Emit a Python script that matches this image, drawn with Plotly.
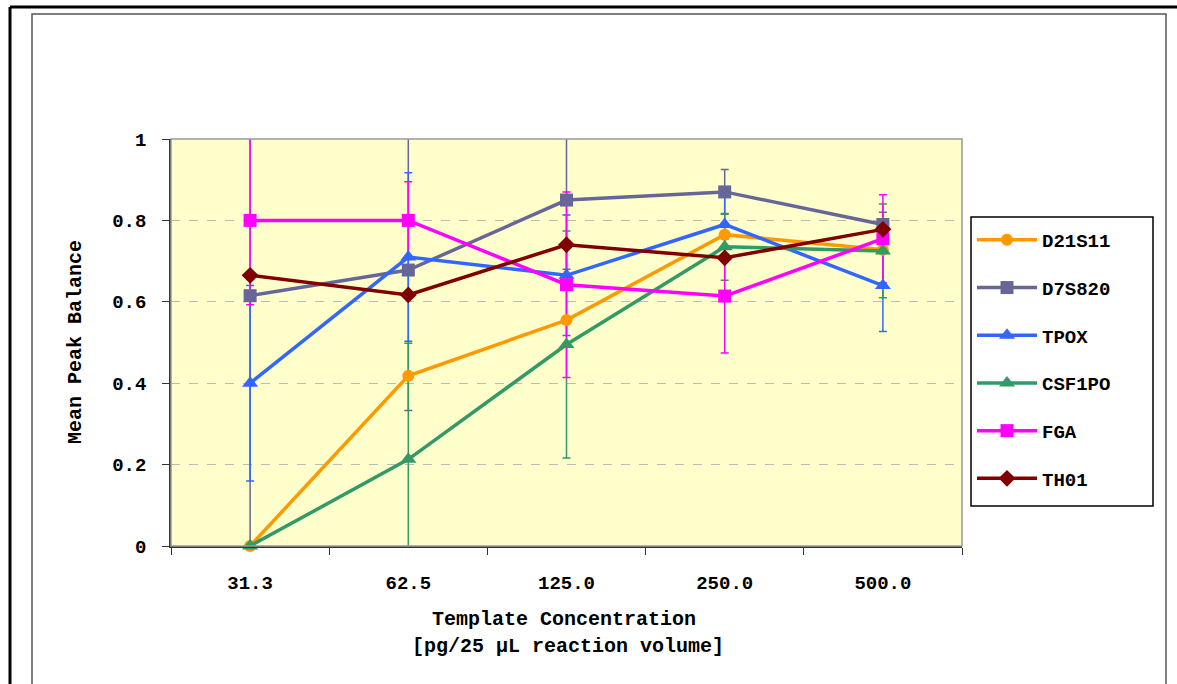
import plotly.graph_objects as go

categories = ["31.3", "62.5", "125.0", "250.0", "500.0"]

series_names = ["D21S11", "D7S820", "TPOX", "CSF1PO", "FGA", "TH01"]

d21s11 = [0.0, 0.418, 0.555, 0.765, 0.728]
d7s820 = [0.615, 0.678, 0.850, 0.870, 0.790]
tpox = [0.400, 0.710, 0.665, 0.790, 0.640]
csf1po = [0.0, 0.213, 0.495, 0.735, 0.725]
fga = [0.800, 0.800, 0.642, 0.614, 0.755]
th01 = [0.665, 0.617, 0.740, 0.708, 0.778]

# error bar half-lengths (None = no error bars drawn)
d21s11_err = None
d7s820_err = [0.62, 0.345, 0.17, 0.055, 0.03]
tpox_err = [0.24, 0.207, 0.148, 0.09, 0.113]
csf1po_err = [0.0, 0.285, 0.279, 0.082, 0.115]
fga_err = [0.207, 0.095, 0.228, 0.14, 0.108]
th01_err = None

values = [d21s11, d7s820, tpox, csf1po, fga, th01]
errors = [d21s11_err, d7s820_err, tpox_err, csf1po_err, fga_err, th01_err]
colors = ["#FF9900", "#666699", "#3366FF", "#339966", "#FF00FF", "#800000"]
symbols = ["circle", "square", "triangle-up", "triangle-up", "square", "diamond"]
msizes = [12, 13, 14, 14, 13, 13]

FONT = "Liberation Mono, Courier New, monospace"

fig = go.Figure()

# error bars first (clipped to plot area)
for name, v, e, c in zip(series_names, values, errors, colors):
    if e is None:
        continue
    fig.add_trace(go.Scatter(
        x=categories, y=v, mode="markers",
        marker=dict(size=1, color="rgba(0,0,0,0)"),
        error_y=dict(type="data", array=e, visible=True, color=c,
                     thickness=1.5, width=4),
        showlegend=False, hoverinfo="skip",
    ))

for i, (name, v, c, s, ms) in enumerate(zip(series_names, values, colors, symbols, msizes)):
    fig.add_trace(go.Scatter(
        x=categories, y=v, name=name, mode="lines+markers",
        line=dict(color=c, width=3.5),
        marker=dict(symbol=s, size=ms, color=c),
        cliponaxis=False, legendgroup=name,
    ))

# plot geometry (pixels)
W, H = 1177, 684
L, R, T, B = 171, 962, 139, 546
pw, ph = R - L, B - T

def px(x):
    return (x - L) / pw

def py(y):
    return (B - y) / ph

shapes = [
    # plot area border
    dict(type="rect", xref="paper", yref="paper", x0=0, x1=1, y0=0, y1=1,
         line=dict(color="#999999", width=1.5), layer="above"),
    # outer frame (black)
    dict(type="line", xref="paper", yref="paper", x0=px(10), x1=px(1180),
         y0=py(7), y1=py(7), line=dict(color="black", width=3)),
    dict(type="line", xref="paper", yref="paper", x0=px(10), x1=px(10),
         y0=py(7), y1=py(690), line=dict(color="black", width=3)),
    # inner chart area frame
    dict(type="rect", xref="paper", yref="paper", x0=px(32), x1=px(1166),
         y0=py(14), y1=py(700), line=dict(color="#555555", width=1.5)),
    # legend box
    dict(type="rect", xref="paper", yref="paper", x0=px(971), x1=px(1153),
         y0=py(506), y1=py(217), fillcolor="white",
         line=dict(color="black", width=1.5)),
]

TFS = 20
annotations = [
    dict(text="Template Concentration", xref="paper", yref="paper",
         x=px(564), y=py(619), showarrow=False, xanchor="center", yanchor="middle",
         font=dict(family=FONT, size=TFS, color="black", weight="bold")),
    dict(text="[pg/25 μL reaction volume]", xref="paper", yref="paper",
         x=px(568), y=py(646), showarrow=False, xanchor="center", yanchor="middle",
         font=dict(family=FONT, size=TFS, color="black", weight="bold")),
    dict(text="Mean Peak Balance", xref="paper", yref="paper",
         x=px(75), y=py(342), showarrow=False, textangle=-90,
         xanchor="center", yanchor="middle",
         font=dict(family=FONT, size=TFS, color="black", weight="bold")),
]

fig.update_layout(
    width=W, height=H,
    margin=dict(l=L, r=W - R, t=T, b=H - B, pad=0, autoexpand=False),
    paper_bgcolor="white", plot_bgcolor="#FFFFCC",
    font=dict(family=FONT, size=19, color="black", weight="bold"),
    shapes=shapes, annotations=annotations,
    showlegend=True,
    legend=dict(
        x=px(972), y=py(221), xanchor="left", yanchor="top",
        bgcolor="rgba(0,0,0,0)", borderwidth=0,
        font=dict(family=FONT, size=19, color="black", weight="bold"),
        traceorder="grouped", tracegroupgap=20, itemwidth=60,
    ),
)

fig.update_xaxes(
    type="category", categoryorder="array", categoryarray=categories,
    tickson="boundaries", ticks="outside", ticklen=7, tickcolor="#333333",
    showline=True, linecolor="#333333", linewidth=1.5,
    showgrid=False, zeroline=False, ticklabelstandoff=18,
    range=[-0.5, 4.5],
    tickfont=dict(family=FONT, size=19, color="black", weight="bold"),
)
fig.update_yaxes(
    range=[0, 1], tickvals=[0, 0.2, 0.4, 0.6, 0.8, 1],
    ticktext=["0", "0.2", "0.4", "0.6", "0.8", "1"],
    ticks="outside", ticklen=7, tickcolor="#333333",
    showline=True, linecolor="#333333", linewidth=1.5,
    showgrid=True, gridcolor="#BBBBBB", griddash="dash", gridwidth=1,
    zeroline=False, ticklabelstandoff=12,
    tickfont=dict(family=FONT, size=19, color="black", weight="bold"),
)

fig.write_html("out.html")
